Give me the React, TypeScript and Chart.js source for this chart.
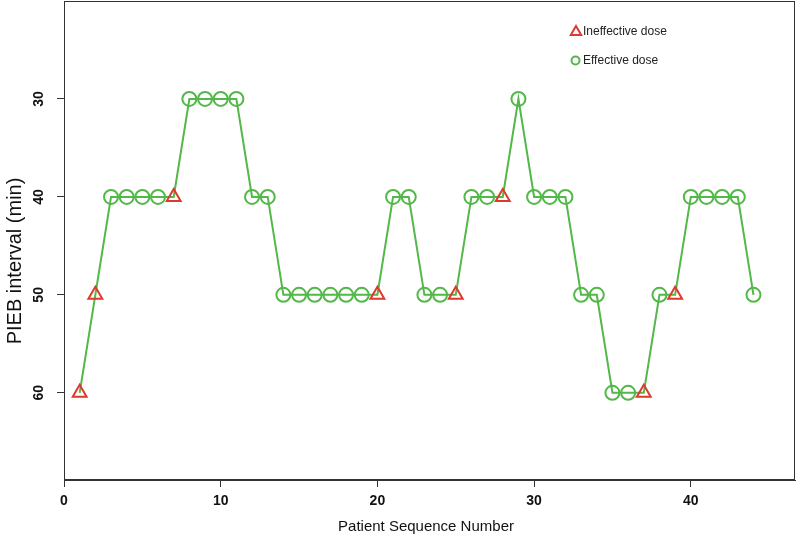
import React, { useEffect, useRef } from "react";
import { Chart, registerables } from "chart.js";

Chart.register(...registerables);

const patients = [1, 2, 3, 4, 5, 6, 7, 8, 9, 10, 11, 12, 13, 14, 15, 16, 17, 18, 19, 20, 21, 22, 23, 24, 25, 26, 27, 28, 29, 30, 31, 32, 33, 34, 35, 36, 37, 38, 39, 40, 41, 42, 43, 44];
const intervals = [60, 50, 40, 40, 40, 40, 40, 30, 30, 30, 30, 40, 40, 50, 50, 50, 50, 50, 50, 50, 40, 40, 50, 50, 50, 40, 40, 40, 30, 40, 40, 40, 50, 50, 60, 60, 60, 50, 50, 40, 40, 40, 40, 50];
const effective = [0, 0, 1, 1, 1, 1, 0, 1, 1, 1, 1, 1, 1, 1, 1, 1, 1, 1, 1, 0, 1, 1, 1, 1, 0, 1, 1, 0, 1, 1, 1, 1, 1, 1, 1, 1, 0, 1, 0, 1, 1, 1, 1, 1];
const xTicks = [0, 10, 20, 30, 40];
const yTicks = [30, 40, 50, 60];
const legendLabels = ["Ineffective dose", "Effective dose"];
const xTitle = "Patient Sequence Number";
const yTitle = "PIEB interval (min)";

const GREEN = "#52b848";
const RED = "#dc3a2c";
const AXIS = "#333333";

export default function App() {
  const ref = useRef<HTMLCanvasElement | null>(null);

  useEffect(() => {
    document.body.style.margin = "0";
    const canvas = ref.current;
    if (!canvas) return;

    const decor = {
      id: "decor",
      afterDraw(chart: any) {
        const { ctx, chartArea } = chart;
        const ys = chart.scales.y;
        ctx.save();
        // box
        ctx.strokeStyle = AXIS;
        ctx.lineWidth = 1;
        ctx.strokeRect(chartArea.left + 0.5, chartArea.top + 0.5, chartArea.right - chartArea.left - 1, chartArea.bottom - chartArea.top - 1);
        // y tick labels (rotated)
        ctx.fillStyle = "#111";
        ctx.font = "bold 14px 'Liberation Sans', Arial, sans-serif";
        ctx.textAlign = "center";
        ctx.textBaseline = "middle";
        for (const v of yTicks) {
          const py = ys.getPixelForValue(v);
          ctx.save();
          ctx.translate(39, py);
          ctx.rotate(-Math.PI / 2);
          ctx.fillText(String(v), 0, 0);
          ctx.restore();
        }
        // y title
        ctx.font = "20px 'Liberation Sans', Arial, sans-serif";
        ctx.fillStyle = "#111";
        ctx.save();
        ctx.translate(15, 261);
        ctx.rotate(-Math.PI / 2);
        ctx.fillText(yTitle, 0, 0);
        ctx.restore();
        // x title
        ctx.font = "15px 'Liberation Sans', Arial, sans-serif";
        ctx.fillText(xTitle, 426, 527);
        // legend
        ctx.lineWidth = 2;
        ctx.strokeStyle = RED;
        const tx = 576, ty = 32, r = 6;
        ctx.beginPath();
        ctx.moveTo(tx, ty - r);
        ctx.lineTo(tx + r * 0.866, ty + r * 0.5);
        ctx.lineTo(tx - r * 0.866, ty + r * 0.5);
        ctx.closePath();
        ctx.stroke();
        ctx.strokeStyle = GREEN;
        ctx.beginPath();
        ctx.arc(575.5, 60.5, 4, 0, Math.PI * 2);
        ctx.stroke();
        ctx.font = "12px 'Liberation Sans', Arial, sans-serif";
        ctx.fillStyle = "#222";
        ctx.textAlign = "left";
        ctx.fillText(legendLabels[0], 583, 32);
        ctx.fillText(legendLabels[1], 583, 60.5);
        ctx.restore();
      },
    };

    const chart = new Chart(canvas, {
      type: "line",
      data: {
        datasets: [
          {
            label: "PIEB",
            data: patients.map((p, i) => ({ x: p, y: intervals[i] })),
            borderColor: GREEN,
            borderWidth: 2,
            tension: 0,
            fill: false,
            pointStyle: (c: any) => (effective[c.dataIndex] ? "circle" : "triangle"),
            pointRadius: (c: any) => (effective[c.dataIndex] ? 7 : 8),
            pointBorderColor: (c: any) => (effective[c.dataIndex] ? GREEN : RED),
            pointBackgroundColor: "rgba(0,0,0,0)",
            pointBorderWidth: 2,
          } as any,
        ],
      },
      options: {
        animation: false,
        responsive: true,
        maintainAspectRatio: false,
        layout: { autoPadding: false, padding: { top: 1, right: 5, left: 0, bottom: 0 } },
        plugins: { legend: { display: false }, tooltip: { enabled: false }, title: { display: false } },
        scales: {
          x: {
            type: "linear",
            min: 0,
            max: 46.65,
            afterBuildTicks: (s: any) => {
              s.ticks = xTicks.map((v) => ({ value: v }));
            },
            afterFit: (s: any) => {
              s.height = 63;
            },
            ticks: {
              color: "#111",
              font: { family: "'Liberation Sans', Arial, sans-serif", size: 14, weight: "bold" },
              padding: 6,
              maxRotation: 0,
              autoSkip: false,
            },
            grid: { display: true, drawOnChartArea: false, drawTicks: true, tickLength: 7, color: AXIS, lineWidth: 1 },
            border: { display: true, color: AXIS },
          },
          y: {
            type: "linear",
            reverse: true,
            min: 20,
            max: 68.9,
            afterBuildTicks: (s: any) => {
              s.ticks = yTicks.map((v) => ({ value: v }));
            },
            afterFit: (s: any) => {
              s.width = 64;
            },
            ticks: { display: false },
            grid: { display: true, drawOnChartArea: false, drawTicks: true, tickLength: 7, color: AXIS, lineWidth: 1 },
            border: { display: true, color: AXIS },
          },
        },
      } as any,
      plugins: [decor],
    });
    return () => chart.destroy();
  }, []);

  return (
    <div style={{ width: 800, height: 543, position: "relative" }}>
      <canvas ref={ref} />
    </div>
  );
}
